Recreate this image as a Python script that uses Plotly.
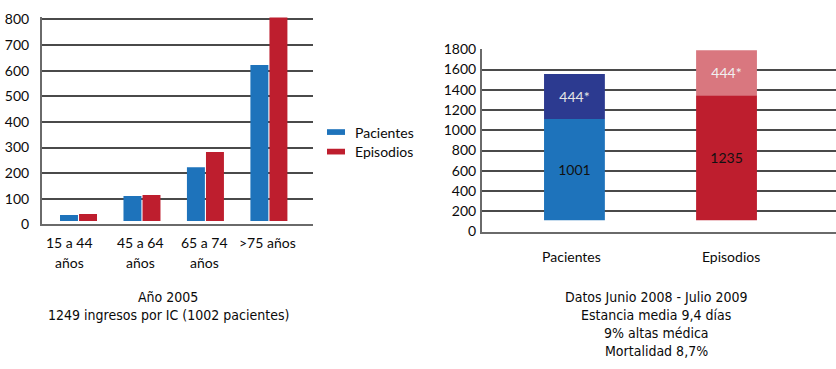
import plotly.graph_objects as go

# ---------------- data ----------------
age_groups = ["15 a 44<br>años", "45 a 64<br>años", "65 a 74<br>años", ">75 años"]
series_names = ["Pacientes", "Episodios"]
pacientes_2005 = [36, 111, 223, 622]
episodios_2005 = [40, 114, 282, 808]
left_base = 13

right_cats = ["Pacientes", "Episodios"]
right_lower = [1001, 1235]
right_upper = [444, 444]
right_lower_text = ["1001", "1235"]
right_upper_text = ["444*", "444*"]
right_base = 112

left_caption = ["Año 2005", "1249 ingresos por IC (1002 pacientes)"]
right_caption = ["Datos Junio 2008 - Julio 2009", "Estancia media 9,4 días",
                 "9% altas médica", "Mortalidad 8,7%"]

left_yticks = [0, 100, 200, 300, 400, 500, 600, 700, 800]
right_yticks = [0, 200, 400, 600, 800, 1000, 1200, 1400, 1600, 1800]

# ---------------- style ----------------
BLUE = "#1e73bb"
RED = "#be1e2e"
NAVY = "#2c3a90"
LIGHTRED = "#d9777f"
FONT = "Lato"
CAPFONT = "DejaVu Sans Condensed"
TXT = "#0a0a0a"
GRID = "#4a4a4a"
W, H = 836, 369

fig = go.Figure()

n = len(age_groups)
xs = list(range(n))
fig.add_trace(go.Bar(
    x=[i - 0.15 for i in xs], y=[v - left_base for v in pacientes_2005], base=left_base,
    width=0.283, marker=dict(color=BLUE, line=dict(width=0)), name=series_names[0],
    showlegend=False, xaxis="x", yaxis="y"))
fig.add_trace(go.Bar(
    x=[i + 0.15 for i in xs], y=[v - left_base for v in episodios_2005], base=left_base,
    width=0.283, marker=dict(color=RED, line=dict(width=0)), name=series_names[1],
    showlegend=False, xaxis="x", yaxis="y"))

# right stacked
def seg(x, v, b, color, txt, tcolor):
    fig.add_trace(go.Bar(
        x=[x], y=[v], base=b, width=0.4,
        marker=dict(color=color, line=dict(width=0)), text=[txt],
        textposition="inside", insidetextanchor="middle", textangle=0,
        insidetextfont=dict(family=FONT, size=14, color=tcolor),
        showlegend=False, xaxis="x2", yaxis="y2"))

seg(0, right_lower[0], right_base, BLUE, right_lower_text[0], "#111111")
seg(0, right_upper[0], right_base + right_lower[0], NAVY, right_upper_text[0], "#e6e6e6")
seg(1, right_lower[1], right_base, RED, right_lower_text[1], "#111111")
seg(1, right_upper[1], right_base + right_lower[1], LIGHTRED, right_upper_text[1], "#f0f0f0")

def py(px):
    return 1 - px / H

# axis geometry (pixels)
l_x0, l_x1 = 41.7, 312.7
l_y0 = 225.7
l_ppu = (225.7 - 11) / 800.0
l_top = 810
r_x0, r_x1 = 481.7, 836
r_y0, r_y1 = 233.3, 42.3

annotations = []
shapes = []
# left x tick labels (two lines)
label_x = [-0.14, 0.98, 1.98, 2.98]
for lx, lab in zip(label_x, age_groups):
    for k, line in enumerate(lab.split("<br>")):
        annotations.append(dict(
            x=lx, y=py(245 + 21 * k), xref="x", yref="paper", text=line,
            showarrow=False, xanchor="center", yanchor="middle",
            font=dict(family=FONT, size=14, color=TXT)))

# legend (manual, to match the flat swatches)
for k, (nm, col) in enumerate(zip(series_names, [BLUE, RED])):
    yc = 129 + 20.5 * k
    shapes.append(dict(type="rect", xref="paper", yref="paper",
                       x0=327 / W, x1=345 / W, y0=py(yc + 3), y1=py(yc - 3),
                       fillcolor=col, line=dict(width=0)))
    annotations.append(dict(x=352.5 / W, y=py(yc), xref="paper", yref="paper",
                            text=nm, showarrow=False, xanchor="left", yanchor="middle",
                            font=dict(family=FONT, size=14, color=TXT)))

for k, line in enumerate(left_caption):
    annotations.append(dict(
        x=168 / W, y=py(302 + 19 * k), xref="paper", yref="paper", text=line,
        showarrow=False, xanchor="center", yanchor="middle",
        font=dict(family=CAPFONT, size=14, color=TXT)))
for k, line in enumerate(right_caption):
    annotations.append(dict(
        x=656 / W, y=py(302 + 19 * k), xref="paper", yref="paper", text=line,
        showarrow=False, xanchor="center", yanchor="middle",
        font=dict(family=CAPFONT, size=14, color=TXT)))

tickfont = dict(family=FONT, size=14, color=TXT)

fig.update_layout(
    width=W, height=H,
    margin=dict(l=0, r=0, t=0, b=0),
    paper_bgcolor="white", plot_bgcolor="white",
    barmode="overlay",
    font=dict(family=FONT, size=14, color=TXT),
    showlegend=False,
    xaxis=dict(domain=[l_x0 / W, l_x1 / W], range=[-0.58, 3.69],
               showgrid=False, zeroline=False, showticklabels=False,
               showline=True, linecolor="#6a6a6a", linewidth=1.5,
               anchor="y"),
    yaxis=dict(domain=[py(l_y0), py(l_y0 - l_top * l_ppu)], range=[0, l_top],
               tickvals=left_yticks, ticktext=[str(v) for v in left_yticks],
               showgrid=True, gridcolor=GRID, gridwidth=1.5, zeroline=False,
               showline=True, linecolor="#6a6a6a", linewidth=1.5,
               ticks="", ticklabelstandoff=8, tickfont=tickfont, anchor="x"),
    xaxis2=dict(domain=[r_x0 / W, r_x1 / W], range=[-0.61, 1.72],
                tickvals=[-0.02, 1.03], ticktext=right_cats,
                showgrid=False, zeroline=False,
                showline=True, linecolor="#6a6a6a", linewidth=1.5,
                ticks="", ticklabelstandoff=12, tickfont=tickfont, anchor="y2"),
    yaxis2=dict(domain=[py(r_y0), py(r_y1)], range=[0, 1800],
                tickvals=right_yticks, ticktext=[str(v) for v in right_yticks],
                showgrid=True, gridcolor=GRID, gridwidth=1.5, zeroline=False,
                showline=True, linecolor="#6a6a6a", linewidth=1.5,
                ticks="", ticklabelstandoff=1, tickfont=tickfont, anchor="x2"),
    annotations=annotations,
    shapes=shapes,
)

fig.write_html("out.html")
